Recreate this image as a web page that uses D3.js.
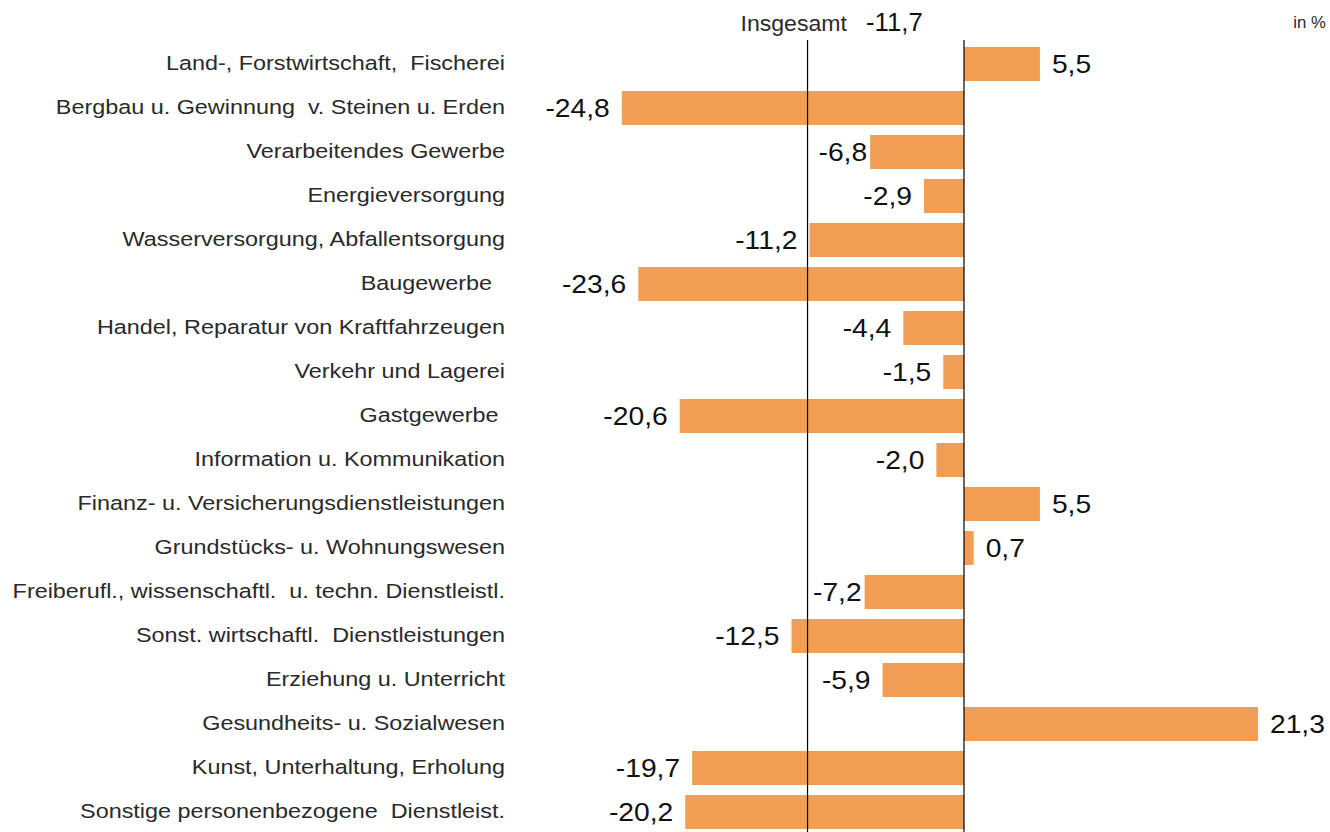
<!DOCTYPE html>
<html>
<head>
<meta charset="utf-8">
<script src="https://cdn.jsdelivr.net/npm/d3@7"></script>
<style>
  body { margin: 0; background: #fff; }
  text { font-family: "Liberation Sans", Arial, sans-serif; white-space: pre; }
</style>
</head>
<body>
<div id="chart"></div>
<script>
// Veränderung nach Wirtschaftsbereichen, in %
const categories = [
  "Land-, Forstwirtschaft,  Fischerei",
  "Bergbau u. Gewinnung  v. Steinen u. Erden",
  "Verarbeitendes Gewerbe",
  "Energieversorgung",
  "Wasserversorgung, Abfallentsorgung",
  "Baugewerbe\u00a0\u00a0",
  "Handel, Reparatur von Kraftfahrzeugen",
  "Verkehr und Lagerei",
  "Gastgewerbe\u00a0",
  "Information u. Kommunikation",
  "Finanz- u. Versicherungsdienstleistungen",
  "Grundstücks- u. Wohnungswesen",
  "Freiberufl., wissenschaftl.  u. techn. Dienstleistl.",
  "Sonst. wirtschaftl.  Dienstleistungen",
  "Erziehung u. Unterricht",
  "Gesundheits- u. Sozialwesen",
  "Kunst, Unterhaltung, Erholung",
  "Sonstige personenbezogene  Dienstleist."
];
const values = [5.5, -24.8, -6.8, -2.9, -11.2, -23.6, -4.4, -1.5, -20.6, -2.0, 5.5, 0.7, -7.2, -12.5, -5.9, 21.3, -19.7, -20.2];
const totalLabel = "Insgesamt";
const totalValue = -11.7;
const unitLabel = "in %";

const W = 1330, H = 832;
const fmt = v => d3.format(".1f")(v).replace(".", ",").replace("−", "-");

const svg = d3.select("#chart").append("svg")
  .attr("width", W).attr("height", H);

const x = d3.scaleLinear()
  .domain([-25, 22])
  .range([964 - 25 * 13.8, 964 + 22 * 13.8]);

const y = d3.scaleBand()
  .domain(d3.range(categories.length))
  .range([42, 834])
  .paddingInner(0.227)
  .paddingOuter(0.1135);

// the source text is a bit stretched sideways, so scale glyphs horizontally
const place = (px, py, sx) => `translate(${px},${py}) scale(${sx},1)`;
const totalX = x(totalValue) + 5;

// bars
svg.append("g").selectAll("rect")
  .data(values)
  .join("rect")
  .attr("x", d => x(Math.min(0, d)))
  .attr("width", d => Math.abs(x(d) - x(0)))
  .attr("y", (d, i) => y(i))
  .attr("height", y.bandwidth())
  .attr("fill", "#F19E54");

// reference lines: zero and total
svg.append("line")
  .attr("x1", x(0)).attr("x2", x(0))
  .attr("y1", 40).attr("y2", H)
  .attr("stroke", "#000").attr("stroke-width", 1.2);

svg.append("line")
  .attr("x1", totalX).attr("x2", totalX)
  .attr("y1", 40).attr("y2", H)
  .attr("stroke", "#000").attr("stroke-width", 1.2);

// category labels
svg.append("g").selectAll("text")
  .data(categories)
  .join("text")
  .attr("transform", (d, i) => place(505, y(i) + y.bandwidth() / 2, 1.2))
  .attr("dy", "0.33em")
  .attr("text-anchor", "end")
  .attr("font-size", 19.5)
  .attr("fill", "#2a2a2a")
  .text(d => d);

// value labels
const valSx = 1.13;
svg.append("g").selectAll("text")
  .data(values)
  .join("text")
  .attr("dy", "0.36em")
  .attr("text-anchor", d => d < 0 ? "end" : "start")
  .attr("font-size", 25)
  .attr("fill", "#111")
  .text(d => fmt(d))
  .attr("transform", function(d, i) {
    const cy = y(i) + y.bandwidth() / 2;
    if (d >= 0) return place(x(d) + 12, cy, valSx);
    let ex = x(d) - 12;
    const w = this.getComputedTextLength() * valSx;
    // keep labels off the total line: tuck them closer to the bar
    if (ex - w < totalX + 4 && ex > totalX) ex = x(d) - 3;
    return place(ex, cy, valSx);
  });

// total annotation
svg.append("text")
  .attr("transform", place(847, 31, 1.05))
  .attr("text-anchor", "end")
  .attr("font-size", 22)
  .attr("fill", "#2a2a2a")
  .text(totalLabel);

svg.append("text")
  .attr("transform", place(866, 31, 1.03))
  .attr("font-size", 25)
  .attr("fill", "#111")
  .text(fmt(totalValue));

svg.append("text")
  .attr("transform", place(1326, 28, 1.05))
  .attr("text-anchor", "end")
  .attr("font-size", 16)
  .attr("fill", "#2a2a2a")
  .text(unitLabel);
</script>
</body>
</html>
